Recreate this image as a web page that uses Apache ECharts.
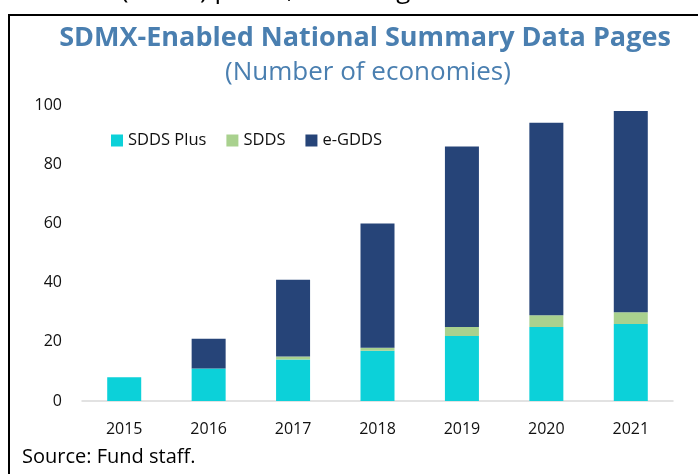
<!DOCTYPE html>
<html>
<head>
<meta charset="utf-8">
<script src="https://cdn.jsdelivr.net/npm/echarts@6/dist/echarts.min.js"></script>
<style>
  html, body { margin: 0; padding: 0; background: #fff; }
  #chart { width: 698px; height: 474px; }
</style>
</head>
<body>
<div id="chart"></div>
<script>
var years = ['2015', '2016', '2017', '2018', '2019', '2020', '2021'];
var sddsPlus = [8, 11, 14, 17, 22, 25, 26];
var sdds = [0, 0, 1, 1, 3, 4, 4];
var eGdds = [0, 10, 26, 42, 61, 65, 68];

var font = '"Open Sans", "Noto Sans", sans-serif';
var titleColor = '#4a7fb0';

var makeSeries = (name, data, color) => {
    return {
        name: name,
        type: 'bar',
        stack: 'total',
        data: data,
        barWidth: 34,
        itemStyle: { color: color },
        emphasis: { disabled: true }
    };
};

var chart = echarts.init(document.getElementById('chart'));
chart.setOption({
    animation: false,
    textStyle: { fontFamily: font },
    title: [{
        text: 'SDMX-Enabled National Summary Data Pages',
        left: 360,
        textAlign: 'center',
        top: 20,
        textStyle: { fontFamily: font, fontSize: 27, fontWeight: 'bold', color: titleColor }
    }, {
        text: '(Number of economies)',
        left: 363,
        textAlign: 'center',
        top: 55,
        textStyle: { fontFamily: font, fontSize: 26, fontWeight: 'normal', color: titleColor }
    }],
    legend: {
        left: 106,
        top: 127,
        itemWidth: 12,
        itemHeight: 12,
        itemGap: 20,
        icon: 'rect',
        textStyle: { fontFamily: font, fontSize: 16.5, color: '#111' },
        data: ['SDDS Plus', 'SDDS', 'e-GDDS']
    },
    grid: { left: 82, right: 25, top: 105, bottom: 73 },
    xAxis: {
        type: 'category',
        data: years,
        axisTick: { show: false },
        axisLine: { lineStyle: { color: '#d9d9d9', width: 1.5 } },
        axisLabel: { fontFamily: font, fontSize: 16, color: '#111', margin: 20 }
    },
    yAxis: {
        type: 'value',
        min: 0,
        max: 100,
        interval: 20,
        splitLine: { show: false },
        axisLine: { show: false },
        axisTick: { show: false },
        axisLabel: { fontFamily: font, fontSize: 16, color: '#111', margin: 20 }
    },
    series: [
        makeSeries('SDDS Plus', sddsPlus, '#0cd1d9'),
        makeSeries('SDDS', sdds, '#a9d18e'),
        makeSeries('e-GDDS', eGdds, '#264478')
    ],
    graphic: [
        { type: 'line', shape: { x1: 9, y1: 15, x2: 698, y2: 15 }, style: { stroke: '#000', lineWidth: 2 } },
        { type: 'line', shape: { x1: 9, y1: 14, x2: 9, y2: 474 }, style: { stroke: '#000', lineWidth: 2 } },
        {
            type: 'text', left: 22, top: 447,
            style: { text: 'Source: Fund staff.', font: '20px ' + font, fill: '#000' }
        },
        {
            type: 'text', left: 60, top: -22,
            style: { text: 'data (SDMX) portal, including', font: '26px ' + font, fill: '#000' }
        }
    ]
});
</script>
</body>
</html>
